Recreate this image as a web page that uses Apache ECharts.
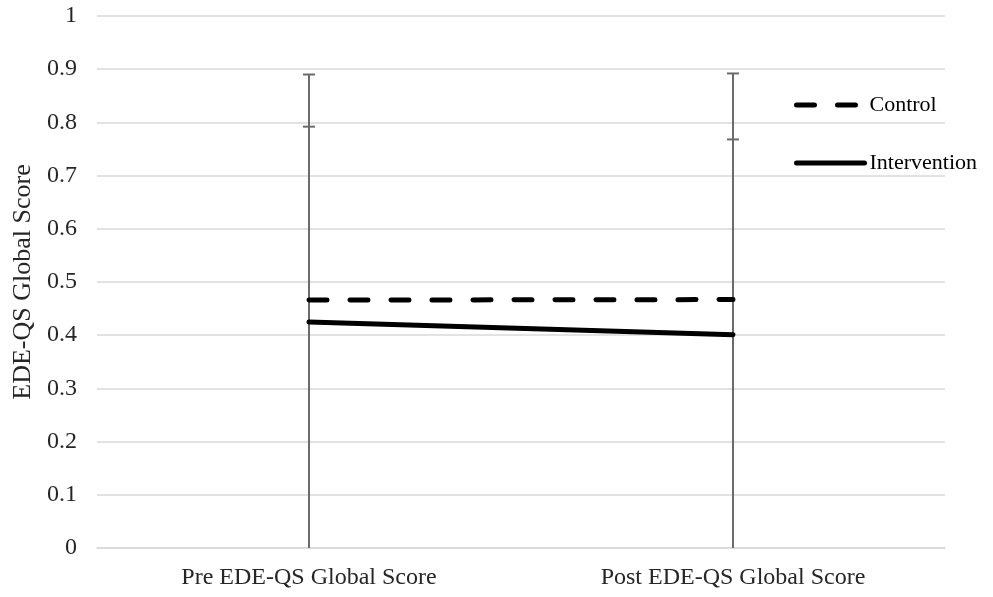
<!DOCTYPE html>
<html>
<head>
<meta charset="utf-8">
<script src="https://cdn.jsdelivr.net/npm/echarts@6/dist/echarts.min.js"></script>
<style>html,body{margin:0;padding:0;background:#fff}#c{width:993px;height:597px}</style>
</head>
<body>
<div id="c"></div>
<script>
var categories = ['Pre EDE-QS Global Score', 'Post EDE-QS Global Score'];
var control = [0.466, 0.467];
var intervention = [0.425, 0.401];
var controlErrHigh = [0.890, 0.892];
var controlErrLow = [0, 0];
var interventionErrHigh = [0.792, 0.768];
var interventionErrLow = [0, 0];
var yTicks = { min: 0, max: 1, interval: 0.1 };

var font = '"Liberation Serif", "Times New Roman", serif';
var textColor = '#262626';

function errData(low, high) {
  return categories.map(function (c, i) { return [i, low[i], high[i]]; });
}
function errRender(params, api) {
  var x = api.value(0);
  var lo = api.coord([x, api.value(1)]);
  var hi = api.coord([x, api.value(2)]);
  var style = { stroke: '#6b6b6b', lineWidth: 2 };
  return {
    type: 'group',
    children: [
      { type: 'line', shape: { x1: lo[0], y1: lo[1], x2: hi[0], y2: hi[1] }, style: style },
      { type: 'line', shape: { x1: hi[0] - 6, y1: hi[1], x2: hi[0] + 6, y2: hi[1] }, style: style }
    ]
  };
}

var chart = echarts.init(document.getElementById('c'), null, { renderer: 'canvas' });
chart.setOption({
  animation: false,
  backgroundColor: '#fff',
  grid: { left: 97, right: 48, top: 16, bottom: 49, containLabel: false, outerBoundsMode: 'none' },
  legend: {
    orient: 'vertical',
    left: 789,
    top: 89,
    itemWidth: 68,
    itemHeight: 24,
    itemGap: 36,
    itemStyle: { opacity: 0, color: 'transparent', borderWidth: 0 },
    lineStyle: { width: 5, cap: 'round' },
    textStyle: { fontFamily: font, fontSize: 22, color: '#000' },
    data: ['Control', 'Intervention']
  },
  xAxis: {
    type: 'category',
    data: categories,
    boundaryGap: true,
    axisLine: { lineStyle: { color: '#d9d9d9', width: 1.5 } },
    axisTick: { show: false },
    axisLabel: { fontFamily: font, fontSize: 24, color: textColor, margin: 18 }
  },
  yAxis: {
    type: 'value',
    min: yTicks.min, max: yTicks.max, interval: yTicks.interval,
    name: 'EDE-QS Global Score',
    nameLocation: 'middle',
    nameGap: 61,
    nameTextStyle: { fontFamily: font, fontSize: 26, color: textColor },
    axisLine: { show: false },
    axisTick: { show: false },
    axisLabel: { fontFamily: font, fontSize: 24, color: textColor, margin: 20 },
    splitLine: { lineStyle: { color: '#d9d9d9', width: 1.5 } }
  },
  series: [
    {
      type: 'custom', name: 'ctrlErr', z: 1, silent: true,
      renderItem: errRender, data: errData(controlErrLow, controlErrHigh)
    },
    {
      type: 'custom', name: 'intErr', z: 1, silent: true,
      renderItem: errRender, data: errData(interventionErrLow, interventionErrHigh)
    },
    {
      name: 'Control', type: 'line', z: 3, data: control, symbol: 'none',
      lineStyle: { color: '#000', width: 5, type: [18, 23], cap: 'round' },
      itemStyle: { color: '#000' }
    },
    {
      name: 'Intervention', type: 'line', z: 3, data: intervention, symbol: 'none',
      lineStyle: { color: '#000', width: 5, type: 'solid', cap: 'round' },
      itemStyle: { color: '#000' }
    }
  ]
});
</script>
</body>
</html>
